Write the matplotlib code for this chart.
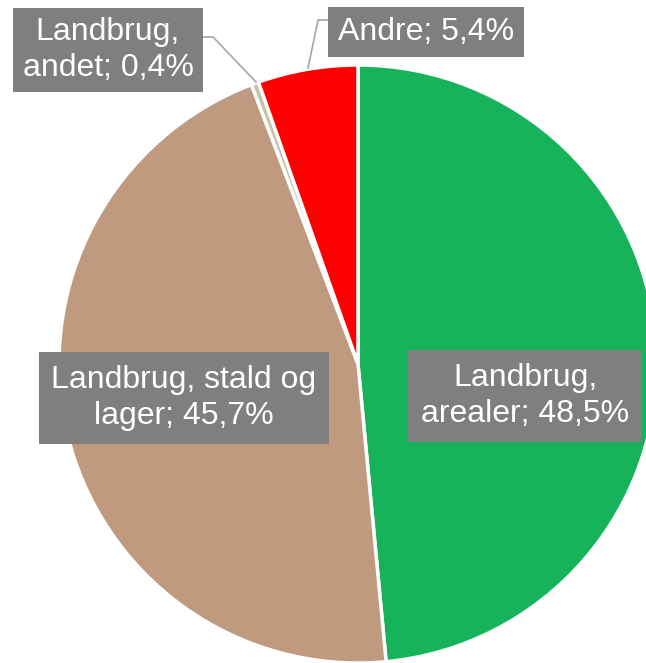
import matplotlib
matplotlib.use("Agg")
from matplotlib import pyplot as plt

plt.rcParams['font.family'] = ['Liberation Sans', 'DejaVu Sans']

# data
names = ["Landbrug,\narealer", "Landbrug, stald og\nlager", "Landbrug,\nandet", "Andre"]
shares = [48.5, 45.7, 0.4, 5.4]
colors = ["#17B35B", "#BF9A7F", "#C4C3A6", "#FF0000"]

W, H = 646, 663
fig = plt.figure(figsize=(W / 100, H / 100), dpi=100)
ax = fig.add_axes([0, 0, 1, 1])

# pie in pixel coordinates (y up)
cx, cy, r = 358, H - 364, 299
ax.pie(shares, colors=colors, startangle=90, counterclock=False,
       center=(cx, cy), radius=r,
       wedgeprops=dict(edgecolor="white", linewidth=2.5))

ax.set_xlim(0, W)
ax.set_ylim(0, H)
ax.set_aspect("equal")
ax.axis("off")

# label positions (pixel coords, origin top-left) and box padding
label_pos = [(525, 396), (184, 398), (108, 50), (426, 32)]
pads = [0.4, 0.4, 0.3, 0.3]

for name, val, (x, y), pad in zip(names, shares, label_pos, pads):
    txt = "{0}; {1}%".format(name, str(val).replace(".", ","))
    ax.text(x, H - y, txt, ha="center", va="center", color="white",
            fontsize=23, linespacing=1.25, zorder=5,
            bbox=dict(boxstyle="square,pad={}".format(pad), fc="#7F7F7F", ec="none"))

# leader lines for the small slices
ax.plot([201, 213, 256], [H - 37, H - 37, H - 82], color="#A6A6A6", lw=1.2, zorder=4)
ax.plot([329, 318, 308], [H - 20, H - 20, H - 68], color="#A6A6A6", lw=1.2, zorder=4)

fig.savefig("out.png", dpi=100)
